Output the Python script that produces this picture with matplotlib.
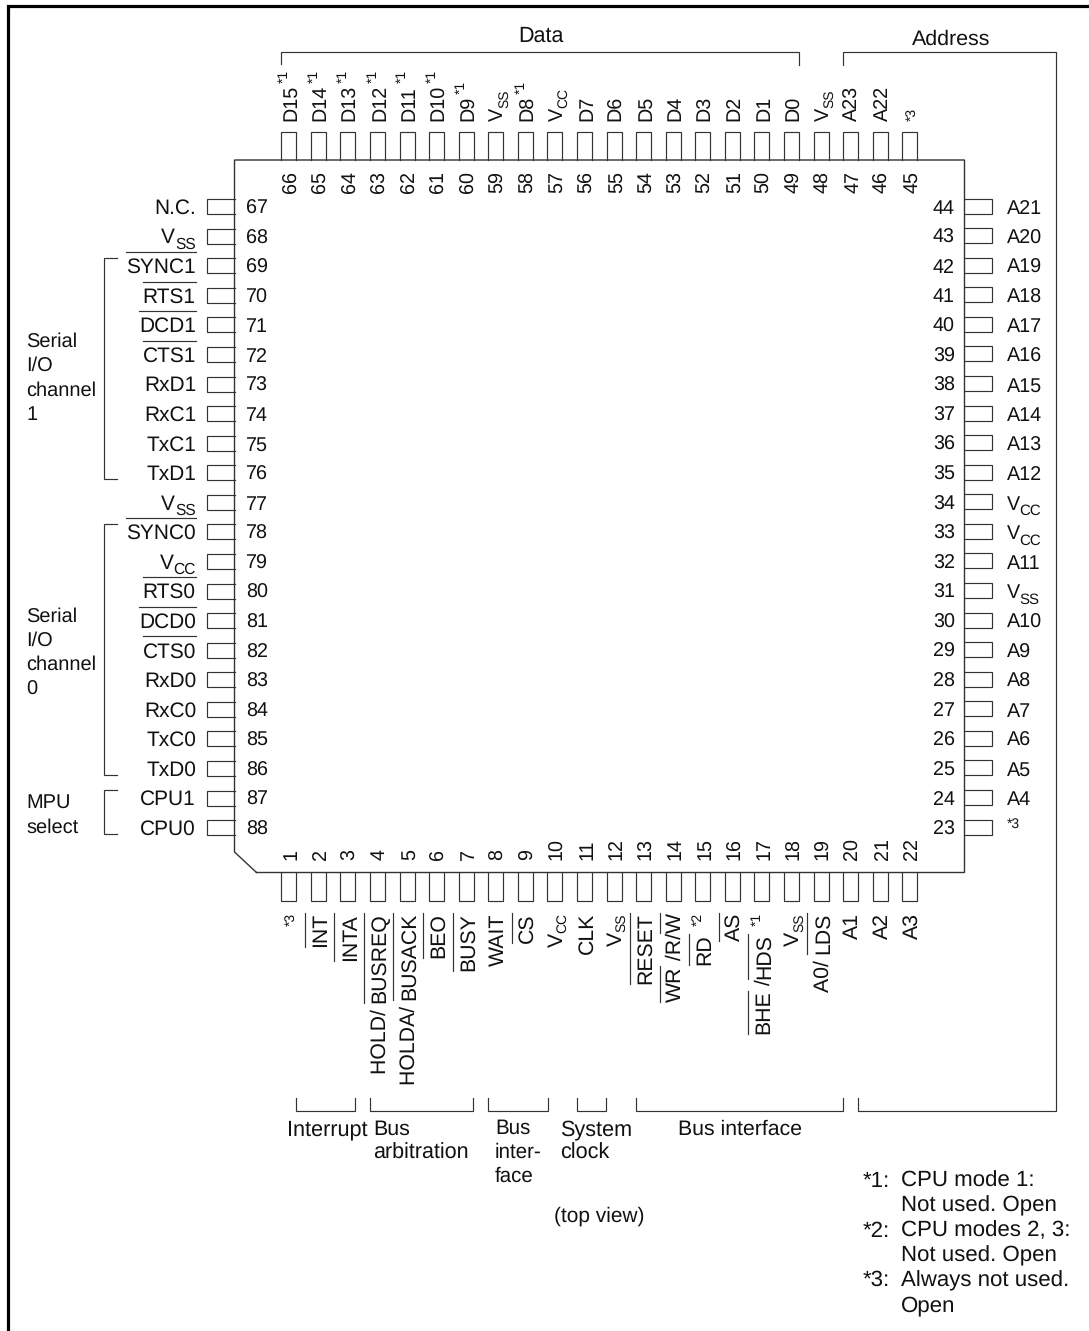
import re
import matplotlib
matplotlib.use("Agg")
import matplotlib.pyplot as plt
from matplotlib.font_manager import FontProperties, findfont, get_font
from matplotlib.ft2font import LoadFlags

# pin labels: ~ overline, _ subscript, ^ raised footnote, ` small footnote
top_labels = ["D15^*1", "D14^*1", "D13^*1", "D12^*1", "D11^*1", "D10^*1", "D9^*1", "V_SS",
              "D8^*1", "V_CC", "D7", "D6", "D5", "D4", "D3", "D2", "D1", "D0", "V_SS",
              "A23", "A22", "`*3"]
top_numbers = list(range(66, 44, -1))

left_labels = ["N.C.", "V_SS", "~SYNC1", "~RTS1", "~DCD1", "~CTS1", "RxD1", "RxC1", "TxC1",
               "TxD1", "V_SS", "~SYNC0", "V_CC", "~RTS0", "~DCD0", "~CTS0", "RxD0", "RxC0",
               "TxC0", "TxD0", "CPU1", "CPU0"]
left_numbers = list(range(67, 89))

right_labels = ["A21", "A20", "A19", "A18", "A17", "A16", "A15", "A14", "A13", "A12", "V_CC",
                "V_CC", "A11", "V_SS", "A10", "A9", "A8", "A7", "A6", "A5", "A4", "`*3"]
right_numbers = list(range(44, 22, -1))

bottom_labels = ["`*3", "~INT", "~INTA", "HOLD/ ~BUSREQ", "HOLDA/ ~BUSACK", "~BEO", "~BUSY",
                 "WAIT", "~CS", "V_CC", "CLK", "V_SS", "~RESET", "~WR /R/~W", "~RD ^*2",
                 "~AS", "~BHE /~HDS ^*1", "V_SS", "A0/ ~LDS", "A1", "A2", "A3"]
bottom_numbers = list(range(1, 23))

# (x, baseline y, text, size)
captions = [(518, 42, "Data", 15.5), (912, 45, "Address", 15.4),
            (26, 347, "Serial", 14.4), (26, 371, "I/O", 14.4), (26, 396, "channel", 14.4),
            (26, 420, "1", 14.4), (26, 622, "Serial", 14.4), (26, 646, "I/O", 14.4),
            (26, 670, "channel", 14.4), (26, 695, "0", 14.4),
            (26, 808, "MPU", 14.4), (26, 833, "select", 14.4),
            (287, 1135, "Interrupt", 15.6), (373, 1135, "Bus", 15.4), (373, 1159, "arbitration", 15.5),
            (495, 1134, "Bus", 14.8), (495, 1158, "inter-", 14.8), (495, 1182, "face", 14.8),
            (560, 1135, "System", 15.6), (560, 1159, "clock", 15.6), (678, 1135, "Bus interface", 15.3),
            (554, 1222, "(top view)", 15)]
notes = [(863, "*1:"), (901, "CPU mode 1:"), (901, "Not used. Open"), (863, "*2:"),
         (901, "CPU modes 2, 3:"), (901, "Not used. Open"), (863, "*3:"),
         (901, "Always not used."), (901, "Open")]
note_rows = [0, 0, 1, 2, 2, 3, 4, 4, 5]

# left side brackets (x, y top, y bottom)
side_brackets = [(104, 258, 479), (104, 524, 775), (104, 790, 834)]
# bottom brackets (x start, x end)
bottom_brackets = [(296, 355), (370, 473), (488, 548), (577, 606), (636, 843)]

FONT = "Liberation Sans"
SIZE = 14.2
DPI = 100

plt.rcParams["font.family"] = [FONT, "DejaVu Sans"]
plt.rcParams["text.hinting"] = "no_hinting"

fig = plt.figure(figsize=(10.89, 13.31), dpi=DPI)
ax = fig.add_axes([0, 0, 1, 1])
ax.set_xlim(0, 1089)
ax.set_ylim(1331, 0)
ax.axis("off")

ft = get_font(findfont(FontProperties(family=FONT)))


def run_width(s, size):
    ft.set_size(size, DPI)
    total = 0
    for c in s:
        total += ft.load_char(ord(c), flags=LoadFlags.NO_HINTING).linearHoriAdvance / 65536
    return total


def line(xs, ys, lw=0.85, color="#333333"):
    ax.plot(xs, ys, color=color, lw=lw, solid_capstyle="projecting", solid_joinstyle="miter")


def tokens(label):
    out = []
    for t in re.findall(r"~[^ /^_`]+|\^\S+|_\S+|`\S+|[^~^_`]+", label):
        if t[0] == "~":
            out.append((t[1:], "bar"))
        elif t[0] == "_":
            out.append((t[1:], "sub"))
        elif t[0] == "^":
            out.append((t[1:], "sup"))
        elif t[0] == "`":
            out.append((t[1:], "note"))
        else:
            out.append((t, "plain"))
    return out


def run_size(kind, size, sub_size):
    if kind == "sub":
        return sub_size
    if kind in ("sup", "note"):
        return 10
    return size


def label_length(label, size, sub_size):
    total = 0
    for s, k in tokens(label):
        total += run_width(s, run_size(k, size, sub_size))
        if k == "sup":
            total += 2
    return total


def draw_label(label, x, y, vertical=False, size=SIZE, sub_size=10, sub_drop=5):
    # x, y is the start of the baseline, text runs right or (vertical) up
    pos = 0
    for s, kind in tokens(label):
        fs = run_size(kind, size, sub_size)
        w = run_width(s, fs)
        shift = {"sub": sub_drop, "sup": -8.5, "note": -1.5}.get(kind, 0)
        if kind == "sup":
            pos += 2
        if vertical:
            tx, ty = x + shift, y - pos
        else:
            tx, ty = x + pos, y + shift
        ax.text(tx, ty, s, fontsize=fs, color="#111111", rotation=90 if vertical else 0,
                rotation_mode="anchor", ha="left", va="baseline")
        if kind == "bar":
            if vertical:
                line([x - 21.5, x - 21.5], [y - pos, y - pos - w])
            else:
                line([x + pos, x + pos + w], [y - 21, y - 21])
        pos += w


# outer frame
ax.plot([8, 8, 1089], [1331, 6, 6], color="black", lw=2.3, solid_joinstyle="miter")

# package outline with the cut corner
line([256.5, 964.5, 964.5, 234.5, 234.5, 256.5], [872.5, 872.5, 160, 160, 852, 872.5], lw=1.0)

PITCH = 29.57
X0 = 288.8
Y0 = 206.6

# top and bottom pins
for i, (label, num) in enumerate(zip(top_labels, top_numbers)):
    cx = X0 + i * PITCH
    line([cx - 7.5, cx - 7.5, cx + 7.5, cx + 7.5], [160, 132, 132, 160])
    draw_label(label, cx + 7.5, 121, vertical=True)
    s = str(num)
    draw_label(s, cx + 7.5, 182.5 + run_width(s, SIZE) / 2, vertical=True)

for i, (label, num) in enumerate(zip(bottom_labels, bottom_numbers)):
    cx = X0 + i * PITCH
    line([cx - 7.5, cx - 7.5, cx + 7.5, cx + 7.5], [872.5, 901, 901, 872.5])
    length = label_length(label, 15.3, 10)
    draw_label(label, cx + 7.8, 913 + length, vertical=True, size=15.3, sub_drop=3.5)
    draw_label(str(num), cx + 7.5, 859.5, vertical=True)

# left and right pins
for i, (label, num) in enumerate(zip(left_labels, left_numbers)):
    cy = Y0 + i * PITCH
    line([234.5, 207, 207, 234.5], [cy - 7.5, cy - 7.5, cy + 7.5, cy + 7.5])
    length = label_length(label, 15, 11.2)
    draw_label(label, 196 - length, cy + 7.2, size=15, sub_size=11.2)
    draw_label(str(num), 246, cy + 7.2)

for i, (label, num) in enumerate(zip(right_labels, right_numbers)):
    cy = Y0 - 0.5 + i * PITCH
    line([964.5, 992, 992, 964.5], [cy - 7.5, cy - 7.5, cy + 7.5, cy + 7.5])
    draw_label(label, 1006.5, cy + (7.8 if label[0] != "`" else 2), sub_size=10.8, sub_drop=5.5)
    s = str(num)
    draw_label(s, 955 - run_width(s, SIZE), cy + 7.5)

# brackets
line([281, 281, 799, 799], [64, 52, 52, 65])
line([843, 843, 1055.5, 1055.5, 858, 858], [65, 52, 52, 1111, 1111, 1098])
for x, y1, y2 in side_brackets:
    line([117, x, x, 117], [y1, y1, y2, y2])
for x1, x2 in bottom_brackets:
    line([x1, x1, x2, x2], [1098, 1111, 1111, 1098])

# captions and notes
for x, y, s, size in captions:
    ax.text(x, y, s, fontsize=size, color="#111111", ha="left", va="baseline")
for (x, s), row in zip(notes, note_rows):
    ax.text(x, 1187 + row * 24.8, s, fontsize=16, color="#111111", ha="left", va="baseline")

fig.savefig("out.png", dpi=DPI)
